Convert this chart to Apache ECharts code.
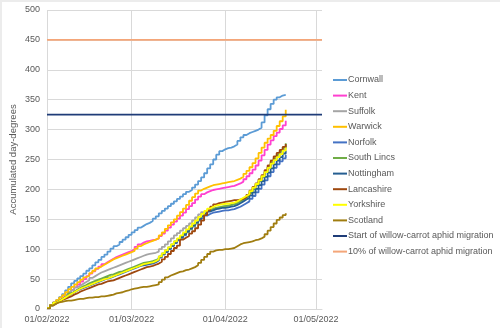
<!DOCTYPE html>
<html><head><meta charset="utf-8">
<script src="https://cdn.jsdelivr.net/npm/echarts@6/dist/echarts.min.js"></script>
<style>html,body{margin:0;padding:0;background:#fff}#c{width:500px;height:328px;box-sizing:border-box;border-top:2px solid #ececec;border-left:2px solid #ececec}</style>
</head><body><div id="c"></div><script>
// ---- data ----
const startDate = '2022-02-01';
const axisEndDate = '2022-05-03';
const tickDates = ['2022-02-01','2022-03-01','2022-04-01','2022-05-01'];
const tickLabels = ['01/02/2022','01/03/2022','01/04/2022','01/05/2022'];
const yMin = 0, yMax = 500, yStep = 50;
const yTitle = 'Accumulated day-degrees';

const locationNames = ['Cornwall','Kent','Suffolk','Warwick','Norfolk','South Lincs','Nottingham','Lancashire','Yorkshire','Scotland'];

const cornwall = [2,7,11,15,20,25,31,37,43,47, 51,55,59,64,68,73,78,82,87,91, 96,101,105,108,112,116,120,124,128,132, 136,139,142,144,147,151,155,160,164,168, 172,176,180,184,188,192,196,199,203,208, 214,220,227,235,242,250,258,264,267,269, 270,272,275,281,287,291,294,296,298,300, 303,312,324,334,343,350,354,357,358,358];
const kent = [2,6,10,13,16,20,24,28,32,36, 41,46,50,55,59,63,67,71,75,78, 81,84,87,89,91,93,95,97,100,104, 108,111,113,114,115,116,118,122,126,131, 136,141,146,151,156,161,167,172,177,183, 188,192,195,197,199,200,201,202,203,204, 205,206,208,210,213,217,222,227,233,240, 248,257,266,275,282,289,295,301,307,315];
const suffolk = [2,7,11,14,17,20,24,28,32,36, 39,42,45,48,52,55,58,61,63,65, 67,69,71,73,75,77,79,81,83,85, 87,89,91,92,93,94,96,100,104,108, 113,118,123,127,131,135,139,143,148,153, 158,162,165,167,168,169,170,171,172,173, 174,176,178,181,184,187,190,195,201,208, 215,222,229,236,243,249,255,261,267,274];
const warwick = [2,7,11,15,19,23,28,33,37,41, 45,49,53,56,60,64,68,71,74,77, 80,83,85,87,89,91,93,95,97,101, 105,108,110,112,114,116,118,123,128,134, 140,145,150,156,162,168,174,181,187,193, 198,201,203,205,207,208,209,210,211,212, 213,214,216,218,221,226,231,237,244,252, 261,270,278,285,291,298,306,314,322,333];
const norfolk = [2,6,10,13,16,19,22,25,28,31, 33,35,37,39,41,43,45,47,49,51, 52,54,56,58,60,62,64,66,68,70, 72,73,74,75,76,78,81,86,91,95, 100,105,110,115,119,123,128,133,138,143, 148,152,156,159,161,162,163,164,165,165, 166,167,169,171,174,177,180,184,189,195, 201,208,215,222,229,236,242,247,252,258];
const southLincs = [2,6,10,13,16,19,22,26,29,32, 35,38,40,43,45,47,49,51,53,55, 57,58,60,62,63,65,67,69,71,73, 75,77,78,79,80,82,84,88,93,98, 103,108,113,117,121,125,129,134,139,144, 150,155,160,164,167,169,170,171,172,173, 174,175,177,180,183,186,189,194,200,207, 214,221,229,237,245,252,258,264,270,277];
const nottingham = [2,6,10,13,16,19,22,25,28,31, 34,36,38,40,42,44,46,48,50,52, 53,55,57,59,61,63,65,67,69,71, 73,74,75,76,77,79,82,87,92,96, 101,106,111,116,120,125,130,135,140,145, 150,155,159,163,165,167,168,169,169,170, 171,172,174,177,180,183,186,190,195,201, 207,214,221,228,235,242,248,254,260,265];
const lancashire = [2,6,9,12,15,17,19,21,24,26, 29,31,33,35,37,39,41,42,44,46, 47,48,50,52,54,56,58,60,62,64, 66,68,70,71,72,74,76,79,83,87, 92,97,102,106,116,119,122,126,130,135, 141,148,157,165,171,175,177,178,179,180, 181,182,182,183,184,187,191,198,204,210, 217,224,232,240,248,255,261,266,271,276];
const yorkshire = [2,6,10,13,16,19,22,25,28,31, 34,36,38,40,42,44,46,48,50,51, 53,55,57,59,61,63,65,67,69,71, 73,75,76,77,78,80,83,88,93,98, 103,108,113,118,123,128,133,138,143,148, 154,159,164,168,171,173,174,175,176,176, 177,178,180,183,186,189,192,197,203,209, 215,222,229,236,243,249,254,259,265,270];
const scotland = [1,6,9,11,12,13,14,14,15,16, 17,17,18,19,19,20,20,21,21,22, 23,24,26,27,28,30,31,33,34,35, 36,37,37,38,39,40,41,45,49,53, 56,58,60,62,63,65,66,68,70,73, 77,82,87,92,96,98,99,99,100,100, 101,102,105,108,110,111,112,113,115,116, 118,121,125,131,137,143,149,153,157,160];

const thresholdNames = ['Start of willow-carrot aphid migration','10% of willow-carrot aphid migration'];
const thresholdValues = [325, 450];

// ---- styles ----
const locationValues = [cornwall,kent,suffolk,warwick,norfolk,southLincs,nottingham,lancashire,yorkshire,scotland];
const locationColors = ['#5B9BD5','#FF40D0','#A5A5A5','#FFC000','#4472C4','#70AD47','#255E91','#9E480E','#FFFF00','#A07D10'];
const thresholdColors = ['#1F3C78','#F4A679'];

const dayOf = d => Math.round((Date.parse(d) - Date.parse(startDate)) / 86400000);
const tickDays = tickDates.map(dayOf);
const xMax = dayOf(axisEndDate);
const FONT = 'Liberation Sans';

const series = [];
locationNames.forEach((n, i) => {
  series.push({
    name: n, type: 'line', step: 'end', symbol: 'none', showSymbol: false,
    data: locationValues[i].map((v, j) => [j, v]),
    lineStyle: { width: 1.8, color: locationColors[i] },
    itemStyle: { color: locationColors[i] },
    emphasis: { disabled: true }
  });
});
thresholdNames.forEach((n, i) => {
  series.push({
    name: n, type: 'line', symbol: 'none', showSymbol: false,
    data: [[0, thresholdValues[i]], [xMax, thresholdValues[i]]],
    lineStyle: { width: 1.8, color: thresholdColors[i] },
    itemStyle: { color: thresholdColors[i] },
    emphasis: { disabled: true }
  });
});

const chart = echarts.init(document.getElementById('c'), null, { renderer: 'canvas' });
chart.setOption({
  animation: false,
  backgroundColor: '#fff',
  textStyle: { fontFamily: FONT },
  grid: { left: 45, top: 8, right: 178, bottom: 19, containLabel: false, outerBoundsMode: 'none' },
  legend: {
    orient: 'vertical', left: 326, top: 67,
    icon: 'rect', itemWidth: 14, itemHeight: 2, itemGap: 3.6,
    textStyle: { color: '#595959', fontSize: 9, fontFamily: FONT, lineHeight: 12, padding: [0,0,0,-4] },
    data: locationNames.concat(thresholdNames)
  },
  xAxis: {
    type: 'value', min: 0, max: xMax,
    axisLine: { show: true, lineStyle: { color: '#D9D9D9', width: 1 } },
    axisTick: { show: false, customValues: tickDays },
    axisLabel: { customValues: tickDays, formatter: v => { const k = tickDays.indexOf(v); return k >= 0 ? tickLabels[k] : ''; },
      color: '#595959', fontSize: 9, margin: 6, fontFamily: FONT },
    splitLine: { show: true, lineStyle: { color: '#D9D9D9', width: 1 } }
  },
  yAxis: {
    type: 'value', min: yMin, max: yMax, interval: yStep,
    name: yTitle, nameLocation: 'middle', nameGap: 29, nameRotate: 90, nameMoveOverlap: false,
    nameTextStyle: { color: '#595959', fontSize: 9.5, fontFamily: FONT },
    axisLine: { show: false }, axisTick: { show: false },
    axisLabel: { color: '#595959', fontSize: 9, margin: 7, fontFamily: FONT },
    splitLine: { show: true, lineStyle: { color: '#D9D9D9', width: 1 } }
  },
  series: series
});
</script></body></html>
